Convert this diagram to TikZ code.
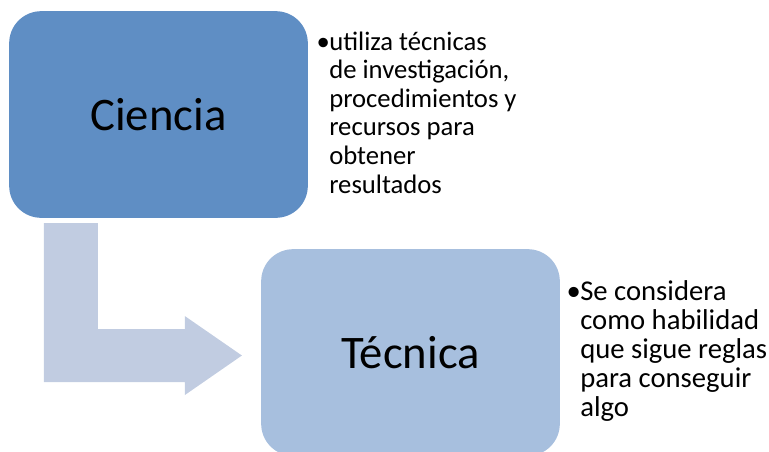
\documentclass[tikz,border=0pt]{standalone}
\usepackage{fontspec}
\setmainfont{Carlito}
\usetikzlibrary{calc}
\definecolor{cienciablue}{RGB}{95,142,196}
\definecolor{tecnicablue}{RGB}{167,191,222}
\definecolor{arrowblue}{RGB}{193,204,225}
\newcommand{\bulletmark}{\llap{•\kern-0.5pt}}

\begin{document}
\begin{tikzpicture}[x=0.75pt, y=-0.75pt,
    mainbox/.style={rectangle, rounded corners=24pt, minimum width=224pt,
        minimum height=155pt, inner sep=0pt, font=\fontsize{35}{42}\selectfont},
    sidetext/.style={anchor=base west, inner sep=0pt, align=left}]
    % Page frame
    \clip (0,0) rectangle (769,451);

    % Boxes
    \node[mainbox, fill=cienciablue] (ciencia) at (158.5,114.5) {Ciencia};
    \node[mainbox, fill=tecnicablue] (tecnica) at (410.5,352.5) {Técnica};

    % Bent arrow
    \coordinate (tip) at ($(tecnica.west)+(-19,3)$);
    \fill[arrowblue] ($(ciencia.south west)+(35,5)$) -- ++(54,0) -- ++(0,106)
        -- ++(87,0) -- ++(0,-13) -- (tip) -- ++(-57,39.5) -- ++(0,-13)
        -- ++(-141,0) -- cycle;

    % Descriptions (anchored at the last line)
    \node[sidetext, font=\fontsize{20}{21.45}\selectfont] (cienciatext) at (329,193)
        {\bulletmark utiliza técnicas\\de investigación,\\procedimientos y\\recursos para\\obtener\\resultados};
    \node[sidetext, font=\fontsize{21.5}{21.75}\selectfont] (tecnicatext) at (580,416)
        {\bulletmark Se considera\\como habilidad\\que sigue reglas\\para conseguir\\algo};
\end{tikzpicture}
\end{document}
